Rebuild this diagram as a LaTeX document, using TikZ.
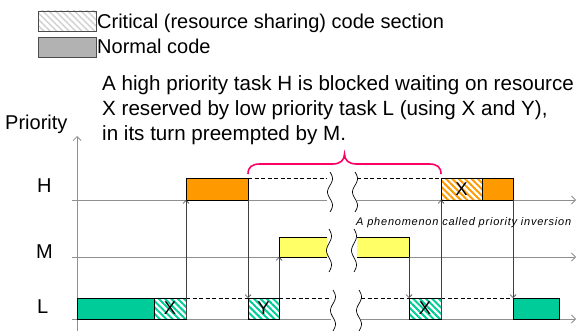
\documentclass[tikz,border=0pt]{standalone}
\usepackage{fontspec}
\setmainfont{Liberation Sans}
\newfontfamily\notefont[LetterSpace=7]{Liberation Sans}
\usetikzlibrary{patterns.meta,arrows.meta,calc}
\definecolor{critgreen}{HTML}{00CC99}
\definecolor{taskorange}{HTML}{FF9900}
\definecolor{taskyellow}{HTML}{FFFF66}
\definecolor{normgray}{HTML}{B2B2B2}
\definecolor{hatchgray}{HTML}{D4D4D4}
\definecolor{bracemag}{HTML}{FF0066}
\definecolor{axisgray}{HTML}{909090}
\definecolor{conngray}{HTML}{404040}
% wavy time-break mark: x, top y, bottom y
\newcommand\brkmark[3]{\draw[brk] plot[smooth, variable=\t, domain=0:1, samples=25]
  ({#1+2.5*sin(540*\t)}, {#2+\t*(#3-#2)});}
\begin{document}
\begin{tikzpicture}[x=1pt,y=-1pt,
  axis/.style={draw=axisgray, line width=0.9pt},
  axarrow/.style={axis, -{Straight Barb[length=4pt,width=8pt,line width=0.8pt]}},
  conn/.style={draw=conngray, line width=0.7pt, -{Straight Barb[length=3pt,width=6pt,line width=0.7pt]}},
  dashline/.style={draw=black, line width=0.7pt, dash pattern=on 4pt off 2.5pt},
  brk/.style={draw=black, line width=0.7pt},
  blk/.style={draw=black, line width=0.8pt, inner sep=0pt, outer sep=0pt, anchor=south west},
  lbl/.style={font=\fontsize{20}{24}\selectfont, inner sep=0pt, anchor=base west},
  bigtxt/.style={font=\fontsize{20.6}{24}\selectfont, inner sep=0pt, anchor=base west},
  boxtxt/.style={font=\fontsize{18.5}{20}\selectfont},
  hatchG/.style={pattern={Lines[angle=-45,distance=4.5pt,line width=2pt]}, pattern color=critgreen},
  hatchO/.style={pattern={Lines[angle=-45,distance=4.5pt,line width=2pt]}, pattern color=taskorange},
  hatchK/.style={pattern={Lines[angle=-45,distance=4.5pt,line width=1.6pt]}, pattern color=hatchgray},
]
\useasboundingbox (0,0) rectangle (580,331);

% legend
\node[blk, draw=black!70, anchor=north west, hatchK, minimum width=58pt, minimum height=20pt] (lgC) at (38,11) {};
\node[blk, draw=black!70, anchor=north west, fill=normgray, minimum width=58pt, minimum height=20pt] (lgN) at (38,37) {};
\node[lbl] (lgCt) at (97,29) {Critical (resource sharing) code section};
\node[lbl] (lgNt) at (97,54) {Normal code};

% explanation
\node[bigtxt] (tx1) at (102,91) {A high priority task H is blocked waiting on resource};
\node[bigtxt] (tx2) at (102,116) {X reserved by low priority task L (using X and Y),};
\node[bigtxt] (tx3) at (102,141) {in its turn preempted by M.};

% axes and task labels
\node[lbl] (prio) at (5,130) {Priority};
\node[lbl] (labH) at (37,192) {H};
\node[lbl] (labM) at (36,258) {M};
\node[lbl] (labL) at (37,313) {L};

\coordinate (yB) at (77,331);
\coordinate (yT) at (77,136);
\draw[axarrow] (yB) -- (yT);

\coordinate (hS) at (72,200);  \coordinate (hG1) at (327,200);
\coordinate (hG2) at (357,200); \coordinate (hE) at (576,200);
\coordinate (mS) at (72,257);  \coordinate (mG1) at (327,257);
\coordinate (mG2) at (357,257); \coordinate (mE) at (576,257);
\coordinate (lS) at (72,319);  \coordinate (lG1) at (331,319);
\coordinate (lG2) at (361,319); \coordinate (lE) at (576,319);
\draw[axis] (hS) -- (hG1);  \draw[axarrow] (hG2) -- (hE);
\draw[axis] (mS) -- (mG1);  \draw[axarrow] (mG2) -- (mE);
\draw[axis] (lS) -- (lG1);  \draw[axarrow] (lG2) -- (lE);

% task L
\node[blk, fill=critgreen, minimum width=77pt, minimum height=21pt] (lN1) at (77,319) {};
\node[blk, hatchG, boxtxt, minimum width=32pt, minimum height=21pt] (lX1) at (154,319) {X};
\node[blk, hatchG, boxtxt, minimum width=31pt, minimum height=21pt] (lY) at (248,319) {Y};
\node[blk, hatchG, boxtxt, minimum width=32pt, minimum height=21pt] (lX2) at (409,319) {X};
\node[blk, fill=critgreen, minimum width=46pt, minimum height=21pt] (lN2) at (513,319) {};

% task H
\node[blk, fill=taskorange, minimum width=62pt, minimum height=22pt] (hA) at (186,200) {};
\node[blk, hatchO, boxtxt, minimum width=41pt, minimum height=22pt] (hX) at (441,200) {X};
\node[blk, fill=taskorange, minimum width=31pt, minimum height=22pt] (hN) at (482,200) {};

% task M, cut by the time break
\node[blk, draw=none, fill=taskyellow, minimum width=48pt, minimum height=20pt] (mA) at (279,257) {};
\node[blk, draw=none, fill=taskyellow, minimum width=52pt, minimum height=20pt] (mB) at (357,257) {};
\draw[line width=0.8pt] (mA.north east) -- (mA.north west) -- (mA.south west) -- (mA.south east);
\draw[line width=0.8pt] (mB.north west) -- (mB.north east) -- (mB.south east) -- (mB.south west);

% waiting (dashed) intervals
\coordinate (hd1) at (327,178); \coordinate (hd2) at (357,178);
\draw[dashline] (hA.north east) -- (hd1);
\draw[dashline] (hd2) -- (hX.north west);
\coordinate (ld1) at (331,298); \coordinate (ld2) at (361,298);
\draw[dashline] (lX1.north east) -- (lY.north west);
\draw[dashline] (lY.north east) -- (ld1);
\draw[dashline] (ld2) -- (lX2.north west);
\draw[dashline] (lX2.north east) -- (lN2.north west);

% time breaks
\brkmark{330}{172}{212}
\brkmark{355}{172}{212}
\brkmark{329}{229}{272}
\brkmark{354}{229}{272}
\brkmark{333}{290}{331}
\brkmark{359}{290}{331}

% context switches
\draw[conn] (lX1.south east) -- (hA.south west);
\draw[conn] (hA.south east) -- (lY.north west);
\draw[conn] (lY.north east) -- (mA.south west);
\draw[conn] (mB.south east) -- (lX2.north west);
\draw[conn] (lX2.south east) -- (hX.south west);
\draw[conn] (hN.south east) -- (lN2.north west);

% brace over the blocking time
\coordinate (brL) at ($(hA.north east)+(0,-4)$);
\coordinate (brR) at ($(hX.north west)+(0,-4)$);
\coordinate (brM) at ($(brL)!0.5!(brR)+(0,-20)$);
\draw[bracemag, line width=1.6pt]
  (brL) .. controls ($(brL)+(0,-7)$) and ($(brL)+(4,-10)$) .. ($(brL)+(12,-10)$)
  -- ($(brM)+(-12,10)$)
  .. controls ($(brM)+(-4,10)$) and ($(brM)+(0,6)$) .. (brM)
  .. controls ($(brM)+(0,6)$) and ($(brM)+(4,10)$) .. ($(brM)+(12,10)$)
  -- ($(brR)+(-12,-10)$)
  .. controls ($(brR)+(-4,-10)$) and ($(brR)+(0,-7)$) .. (brR);

\node[inner sep=0pt, anchor=base west, font=\notefont\itshape\fontsize{11}{13}\selectfont] (note) at (356,225) {A phenomenon called priority inversion};
\end{tikzpicture}
\end{document}
